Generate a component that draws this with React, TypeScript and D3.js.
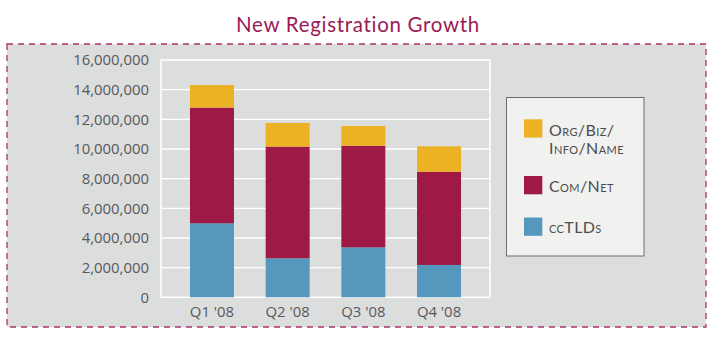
import React from "react";
import * as d3 from "d3";

const categories = ["Q1 '08", "Q2 '08", "Q3 '08", "Q4 '08"];
const ccTLDs = [4990000, 2630000, 3370000, 2180000];
const comNet = [7800000, 7530000, 6850000, 6290000];
const orgBizInfoName = [1520000, 1590000, 1330000, 1710000];
const yTicks = [0, 2000000, 4000000, 6000000, 8000000, 10000000, 12000000, 14000000, 16000000];

const seriesKeys = ["cc", "com", "org"];
const colors: Record<string, string> = { cc: "#5499bd", com: "#9e1946", org: "#edb223" };

export default function App() {
  const W = 723, H = 351;
  const left = 161, right = 490, top = 60, bottom = 297.3;
  const x = d3.scaleBand<string>().domain(categories).range([left, right]).paddingInner(0.419).paddingOuter(0.383);
  const y = d3.scaleLinear().domain([0, 16000000]).range([bottom, top]);
  const rows = categories.map((c, i) => ({ cat: c, cc: ccTLDs[i], com: comNet[i], org: orgBizInfoName[i] }));
  const stack = d3.stack<any>().keys(seriesKeys)(rows);
  const fmt = d3.format(",");
  const font = "'Open Sans', sans-serif";

  return (
    <svg width={W} height={H} style={{ position: "absolute", left: 0, top: 0 }}>
      <rect x={0} y={0} width={W} height={H} fill="#ffffff" />
      <text x={358} y={31.5} textAnchor="middle" fontFamily="Lato, sans-serif" fontWeight={400} fontSize={20.5} fill="#9b1b55" letterSpacing={0.7}>
        New Registration Growth
      </text>
      <rect x={7} y={44} width={699} height={283} fill="#dcdddd" stroke="#a8336a" strokeWidth={1.3} strokeDasharray="6,5" />
      {yTicks.map((t) => (
        <g key={t}>
          {t > 0 && t < 16000000 && <line x1={left} x2={right} y1={y(t)} y2={y(t)} stroke="#ffffff" strokeWidth={1.3} />}
          <text x={149} y={y(t)} dy="0.36em" textAnchor="end" fontFamily={font} fontSize={14.9} fill="#58595b">
            {fmt(t)}
          </text>
        </g>
      ))}
      <rect x={left} y={top} width={right - left} height={bottom - top} fill="none" stroke="#ffffff" strokeWidth={1.5} />
      {stack.map((s) => (
        <g key={s.key} fill={colors[s.key]}>
          {s.map((d, i) => (
            <rect key={i} x={x(categories[i])} y={y(d[1])} width={x.bandwidth()} height={y(d[0]) - y(d[1])} />
          ))}
        </g>
      ))}
      {categories.map((c) => (
        <text key={c} x={(x(c) as number) + x.bandwidth() / 2} y={317} textAnchor="middle" fontFamily={font} fontSize={14.9} fill="#58595b">
          {c}
        </text>
      ))}
      <rect x={506.5} y={97.5} width={137.5} height={158.5} fill="#f1f1ef" stroke="#6d6e70" strokeWidth={1} />
      <rect x={524} y={119.3} width={18.3} height={18.3} fill={colors.org} />
      <rect x={524} y={176} width={18.3} height={18.3} fill={colors.com} />
      <rect x={524} y={217.5} width={18.3} height={18.3} fill={colors.cc} />
      <g fontFamily="Lato, sans-serif" fontSize={16} fill="#4d4d4f" style={{ fontVariant: "small-caps" }} letterSpacing={0.4}>
        <text x={549} y={136}>Org/Biz/</text>
        <text x={549} y={154}>Info/Name</text>
        <text x={549} y={191.7}>Com/Net</text>
        <text x={549} y={232.7}>ccTLDs</text>
      </g>
    </svg>
  );
}
